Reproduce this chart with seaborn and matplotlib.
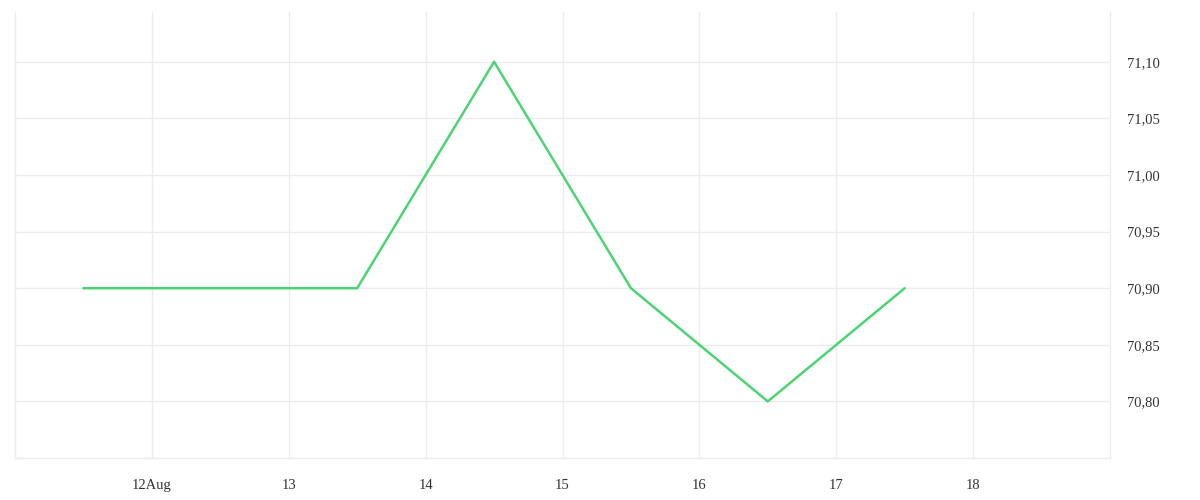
import pandas as pd
import matplotlib
matplotlib.use("Agg")
import matplotlib.pyplot as plt
import seaborn as sns

# data (readings at midday)
times = ["2024-08-11 12:00", "2024-08-12 12:00", "2024-08-13 12:00", "2024-08-14 12:00",
         "2024-08-15 12:00", "2024-08-16 12:00", "2024-08-17 12:00"]
values = [70.90, 70.90, 70.90, 71.10, 70.90, 70.80, 70.90]
tick_days = ["2024-08-12", "2024-08-13", "2024-08-14", "2024-08-15",
             "2024-08-16", "2024-08-17", "2024-08-18"]
tick_labels = ["12Aug", "13", "14", "15", "16", "17", "18"]
y_ticks = [70.80, 70.85, 70.90, 70.95, 71.00, 71.05, 71.10]

df = pd.DataFrame({"time": pd.to_datetime(times), "value": values})

sns.set_style("white")
plt.rcParams["font.family"] = ["Liberation Serif", "DejaVu Serif"]

fig = plt.figure(figsize=(12, 5), dpi=100)
ax = fig.add_axes([0.0125, 0.084, 0.9125, 0.892])

sns.lineplot(data=df, x="time", y="value", color="#4cd474", linewidth=1.8, ax=ax)

grid_c = "#ececec"
ax.set_xlim(pd.Timestamp("2024-08-11"), pd.Timestamp("2024-08-19"))
ax.set_ylim(70.75, 71.144)
ax.set_xticks(pd.to_datetime(tick_days))
ax.set_xticklabels(tick_labels)
ax.set_yticks(y_ticks + [70.75])
ax.set_yticklabels([f"{v:.2f}".replace(".", ",") for v in y_ticks] + [""])
ax.yaxis.tick_right()
ax.grid(True, color=grid_c, linewidth=1)
ax.tick_params(axis="x", length=8, color=grid_c, width=1, pad=7, labelsize=10.5, labelcolor="#333333")
ax.tick_params(axis="y", length=0, pad=12, labelsize=10.5, labelcolor="#333333")
ax.spines["top"].set_visible(False)
for side in ["left", "right", "bottom"]:
    ax.spines[side].set_color(grid_c)
    ax.spines[side].set_linewidth(1)
ax.set_xlabel("")
ax.set_ylabel("")

fig.savefig("out.png", dpi=100)
